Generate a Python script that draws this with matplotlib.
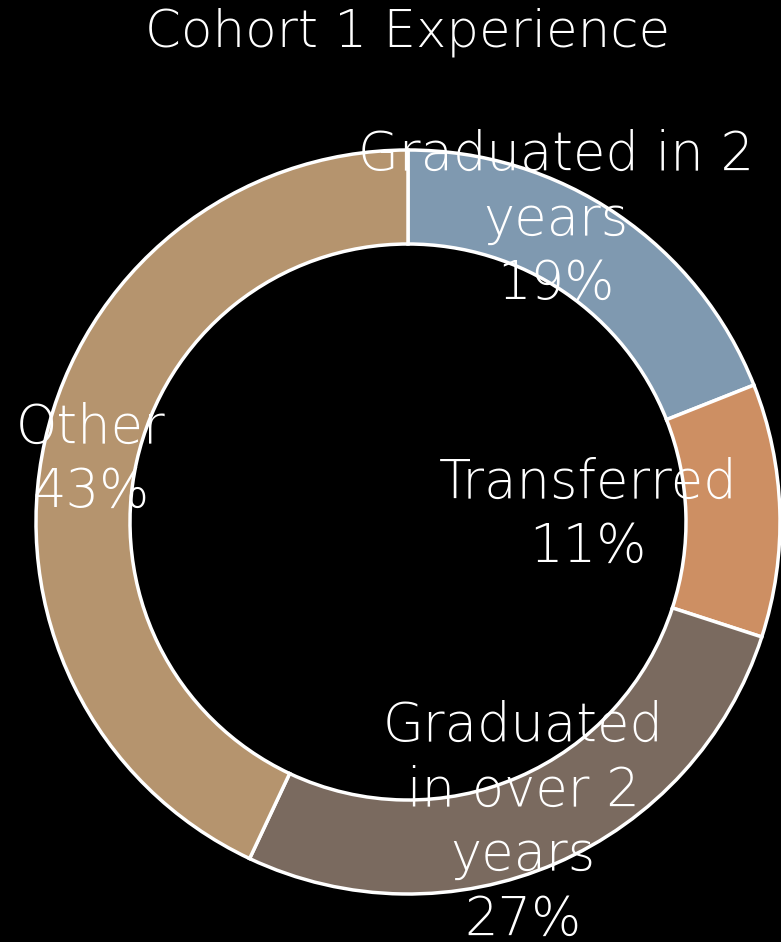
import numpy as np
import matplotlib.pyplot as plt

# data
categories = ["Graduated in 2\nyears", "Transferred", "Graduated\nin over 2\nyears", "Other"]
values = [19, 11, 27, 43]
colors = ["#7F99B0", "#CD8F63", "#7A6A5F", "#B5946E"]

fig = plt.figure(figsize=(7.81, 9.42), dpi=100, facecolor="black")
ax = fig.add_axes([0, 0, 1, 1])
ax.set_facecolor("black")

wedges, _ = ax.pie(values, colors=colors, startangle=90, counterclock=False,
                   center=(408, 420), radius=372,
                   wedgeprops=dict(width=94, edgecolor="white", linewidth=2.5))

# pie resets the limits, so set them after
ax.set_xlim(0, 781)
ax.set_ylim(0, 942)
ax.set_aspect("equal")
ax.axis("off")

# label positions (pixel coords, y up)
label_pos = [(556, 722), (588, 427), (523, 119), (91, 482)]
font = dict(family=["DejaVu Sans"], fontweight="light", color="white")
for cat, val, (x, y) in zip(categories, values, label_pos):
    ax.text(x, y, f"{cat}\n{val}%", ha="center", va="center", fontsize=38,
            linespacing=1.29, **font)

ax.text(408, 910, "Cohort 1 Experience", ha="center", va="center", fontsize=37, **font)

fig.savefig("out.png", dpi=100, facecolor="black")
